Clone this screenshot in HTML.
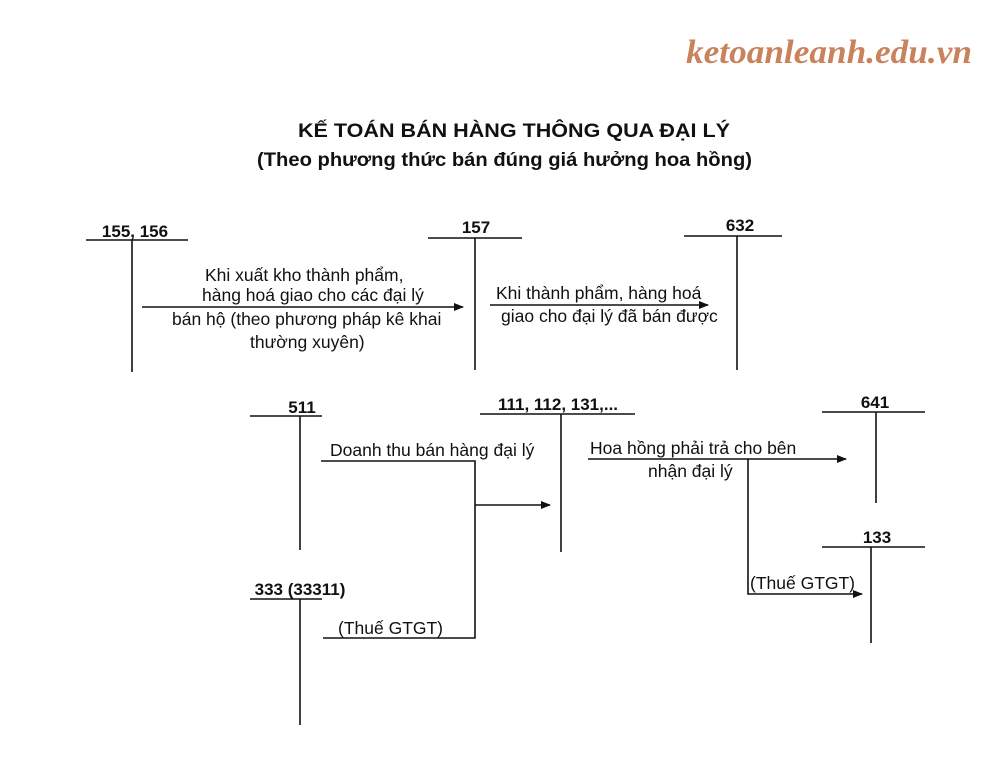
<!DOCTYPE html>
<html><head><meta charset="utf-8"><style>
html,body{margin:0;padding:0;background:#fff;}
svg{display:block;}
text{font-family:"Liberation Sans",sans-serif;fill:#111;}
</style></head><body>
<svg width="1002" height="762" viewBox="0 0 1002 762" xmlns="http://www.w3.org/2000/svg">
<defs><marker id="a" markerWidth="10" markerHeight="8" refX="9" refY="4" orient="auto" markerUnits="userSpaceOnUse"><path d="M0,0 L10,4 L0,8 z" fill="#111"/></marker></defs>
<text x="686" y="63" textLength="286" lengthAdjust="spacingAndGlyphs" style="font-family:'Liberation Serif',serif;font-style:italic;font-weight:bold;font-size:34px;fill:#c9835c">ketoanleanh.edu.vn</text>
<text x="298" y="137" textLength="432" lengthAdjust="spacingAndGlyphs" font-weight="bold" font-size="19">KẾ TOÁN BÁN HÀNG THÔNG QUA ĐẠI LÝ</text>
<text x="257" y="166" textLength="495" lengthAdjust="spacingAndGlyphs" font-weight="bold" font-size="19">(Theo phương thức bán đúng giá hưởng hoa hồng)</text>
<g stroke="#111" stroke-width="1.6" fill="none">
<path d="M86 240H188M132 240V372"/>
<path d="M428 238H522M475 238V370"/>
<path d="M684 236H782M737 236V370"/>
<path d="M250 416H322M300 416V550"/>
<path d="M480 414H635M561 414V552"/>
<path d="M822 412H925M876 412V503"/>
<path d="M822 547H925M871 547V643"/>
<path d="M250 599H322M300 599V725"/>
<path d="M142 307H463" marker-end="url(#a)"/>
<path d="M490 305H708" marker-end="url(#a)"/>
<path d="M321 461H475V638H323"/>
<path d="M475 505H550" marker-end="url(#a)"/>
<path d="M588 459H846" marker-end="url(#a)"/>
<path d="M748 459V594H862" marker-end="url(#a)"/>
</g>
<g font-weight="bold" font-size="17">
<text x="135" y="237" text-anchor="middle">155, 156</text>
<text x="476" y="233" text-anchor="middle">157</text>
<text x="740" y="231" text-anchor="middle">632</text>
<text x="302" y="413" text-anchor="middle">511</text>
<text x="558" y="410" text-anchor="middle">111, 112, 131,...</text>
<text x="875" y="408" text-anchor="middle">641</text>
<text x="877" y="543" text-anchor="middle">133</text>
<text x="300" y="595" text-anchor="middle">333 (33311)</text>
</g>
<g font-size="17.5">
<text x="205" y="281">Khi xuất kho thành phẩm,</text>
<text x="202" y="301">hàng hoá giao cho các đại lý</text>
<text x="172" y="325">bán hộ (theo phương pháp kê khai</text>
<text x="250" y="348">thường xuyên)</text>
<text x="496" y="299">Khi thành phẩm, hàng hoá</text>
<text x="501" y="322">giao cho đại lý đã bán được</text>
<text x="330" y="456">Doanh thu bán hàng đại lý</text>
<text x="338" y="634">(Thuế GTGT)</text>
<text x="590" y="454">Hoa hồng phải trả cho bên</text>
<text x="648" y="477">nhận đại lý</text>
<text x="750" y="589">(Thuế GTGT)</text>
</g>
</svg>
</body></html>
